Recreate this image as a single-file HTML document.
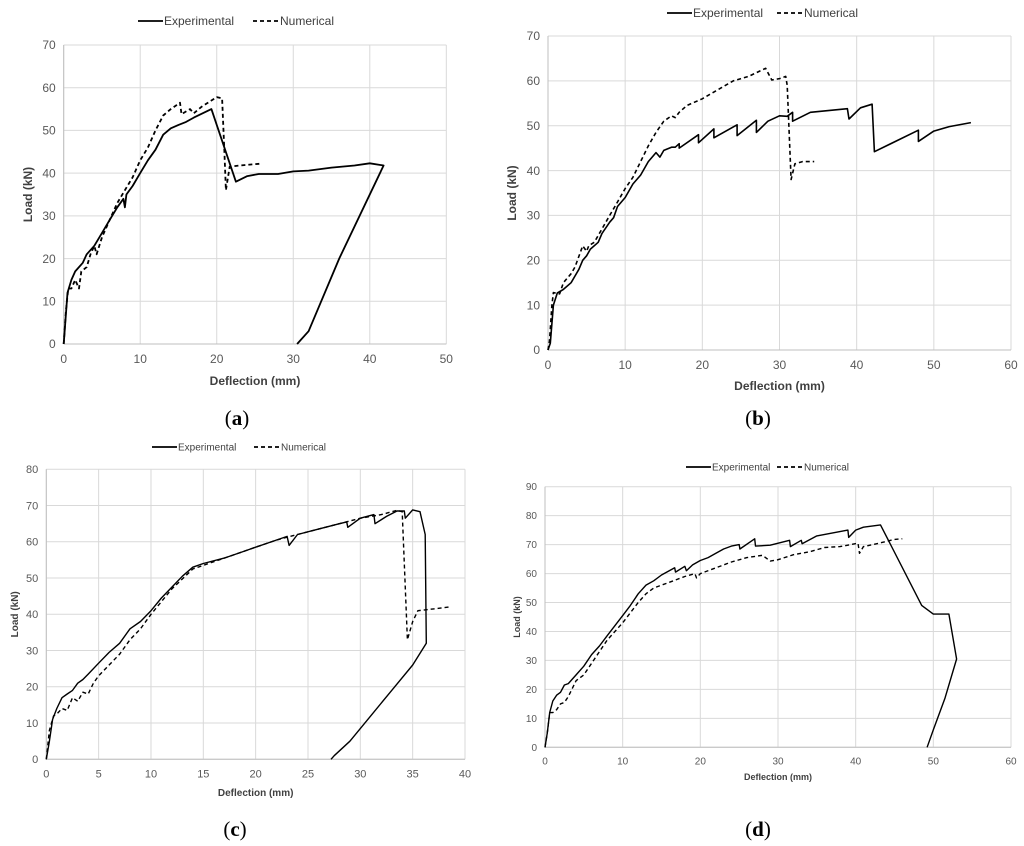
<!DOCTYPE html>
<html><head><meta charset="utf-8"><style>
body{margin:0;background:#fff;}
svg{display:block;font-family:"Liberation Sans",sans-serif;}
</style></head><body>
<svg id="fig" width="1024" height="846" viewBox="0 0 1024 846"></svg>
<script>
// Panel (a)
const aXTicks=[0,10,20,30,40,50];
const aYTicks=[0,10,20,30,40,50,60,70];
const aExpX=[0,0.5,1,1.5,2.5,3,4,5,6,7,7.8,8,8.2,9,10,11,12,13,14,15,16,17,19.3,22.5,24,25.5,28,30,32,35,38,40,41.8,36,32,30.5];
const aExpY=[0,12,15,17,19,21,23,26,29,32,34,32,35,37,40,43,45.5,49,50.5,51.3,52,53,55,38,39.3,39.8,39.8,40.4,40.6,41.3,41.8,42.3,41.8,20,3,0];
const aNumX=[0,0.3,0.6,1,1.5,2,2.3,3,3.5,4,4.3,5,6,7,8,9,10,11,12,13,14,15.2,15.4,16.5,17,18,20,20.7,21,21.2,21.7,23,25.7];
const aNumY=[0,8,13,13,15,13,17,18,21,23,21,25,29,33,36,39,43,46,50,53.5,55,56.5,53.8,55,54,55.5,57.8,57.5,45,36,41.5,41.8,42.2];
// Panel (b)
const bXTicks=[0,10,20,30,40,50,60];
const bYTicks=[0,10,20,30,40,50,60,70];
const bExpX=[0,0.3,0.7,1.2,2,3,3.5,4,4.5,5,5.5,6.5,7,8,8.5,9,10,11,12,13,14,14.5,15,16,16.5,17,17,19.5,19.5,21.5,21.5,24.5,24.5,27,27,28.5,30,31,31.7,31.7,34,38.8,39,40.5,42,42.3,48,48,50,52,54.8];
const bExpY=[0,1.5,10,12.7,13.5,15,16.5,18,20,21,22.5,24,26,28.5,29.5,32,34,37,39,42,44,43,44.5,45.2,45.2,46,45,48,46.2,49.3,47.3,50.2,47.8,51.2,48.5,51,52.2,52.1,53,51,53,53.8,51.5,54,54.8,44.2,49,46.5,48.8,49.8,50.7];
const bNumX=[0,0.2,0.5,0.7,1.5,2,3,3.5,4.5,5,5.3,6,7,8,9,10,11,12,13,14,15,16,16.5,17,18,20,22,24,26,28.2,29,30,30.8,31,31.5,32,33,34.5];
const bNumY=[0,2,10,12.8,12.5,15,17,18.5,23.2,22,23.3,24,27,30,33,36,38.5,42,45.5,48.5,51,52.2,51.8,53,54.5,56,58,60,61,62.8,60.2,60.5,61,59,38,41.5,42,42];
// Panel (c)
const cXTicks=[0,5,10,15,20,25,30,35,40];
const cYTicks=[0,10,20,30,40,50,60,70,80];
const cExpX=[0,0.3,0.6,1,1.5,2,2.5,3,3.5,4,5,6,7,8,9,10,11,12,13,14,15,17,18,19,20,21,22,23,23.2,24,26,28,28.7,28.8,30,31.3,31.4,32.5,33.5,34.2,34.3,35,35.7,36.2,36.3,35,33,31,29,27.5,27.2];
const cExpY=[0,5,11,14,17,18,19,21,22,23.5,26.5,29.5,32,36,38,41,44.5,47.5,50.5,53,54,55.5,56.5,57.5,58.5,59.5,60.5,61.5,59,62,63.5,65,65.5,64,66.5,67.5,65,67,68.5,68.5,66.5,68.8,68.3,62,32,26,19,12,5,1,0];
const cNumX=[0,0.3,0.7,1,1.5,2,2.5,3,3.5,4,4.5,5,6,7,8,9,10,12,14,16,18,20,22,24,26,28,30,32,33.5,34,34.5,35,35.5,37,38.5];
const cNumY=[0,8,12,12.5,14,13.5,17,16,18.5,18,21,23,26,29,33,36,40,47,52.5,54.5,56.5,58.5,60.5,62,63.5,65,66.5,67.5,68.7,68.3,33,38,41,41.5,42];
// Panel (d)
const dXTicks=[0,10,20,30,40,50,60];
const dYTicks=[0,10,20,30,40,50,60,70,80,90];
const dExpX=[0,0.3,0.6,1,1.5,2,2.5,3,4,5,6,7,8,9,10,11,12,13,14,15,16.7,16.8,18,18.2,19,20,21,22,23,24,25,25.1,27,27.1,29,31.5,31.6,33,33.1,35,39,39.1,40,41,43.2,48.5,50,52,53,51.5,50,49.2];
const dExpY=[0,5,12,16,18,19,21.5,22,25,28,32,35,38.5,42,45.5,49,53,56,57.5,59.5,62,60.5,62.5,61,63,64.5,65.5,67,68.5,69.5,70,68.5,72,69.5,69.8,71.5,69.3,71.5,70.3,73,75,72.5,75,76,76.8,49,46,46,30.5,17,6,0];
const dNumX=[0,0.3,0.6,1,1.5,2,2.5,3,4,5,6,7,8,9,10,11,12,13,14,16,18,19.3,19.5,20,22,24,26,28,29,30,32,34,36,38,40.3,40.5,41,43,45,46];
const dNumY=[0,5,12,12,13,15,15.5,17.5,23,25,29,33,37,40,43,46.5,50,53,55,57,59,60,58.5,60,62,64,65.5,66.3,64.3,64.8,66.5,67.5,69,69.3,70.5,67,69.3,70.5,71.8,72];

const NS='http://www.w3.org/2000/svg';
const svg=document.getElementById('fig');
function mk(tag,attrs,parent){const e=document.createElementNS(NS,tag);for(const k in attrs)e.setAttribute(k,attrs[k]);(parent||svg).appendChild(e);return e;}

function panel(id,box,xT,yT,exp,num,opt){
  const g=mk('g',{});
  
  
  const xMax=xT[xT.length-1],yMax=yT[yT.length-1];
  const sx=v=>box.x0+(box.x1-box.x0)*v/xMax;
  const sy=v=>box.y0-(box.y0-box.y1)*v/yMax;
  yT.forEach(t=>{
    const l=mk('line',{x1:box.x0,x2:box.x1,y1:sy(t),y2:sy(t),stroke:'#d9d9d9','stroke-width':1},g);
    
    
    const tx=mk('text',{x:box.x0-8,y:sy(t)+opt.fs*0.35,'text-anchor':'end','font-size':opt.fs,fill:'#595959'},g);
    tx.textContent=t;
    
    
  });
  xT.forEach(t=>{
    const l=mk('line',{x1:sx(t),x2:sx(t),y1:box.y0,y2:box.y1,stroke:'#d9d9d9','stroke-width':1},g);
    
    
    const tx=mk('text',{x:sx(t),y:box.y0+opt.fs+7,'text-anchor':'middle','font-size':opt.fs,fill:'#595959'},g);
    tx.textContent=t;
    
    
  });
  const ax=mk('line',{x1:box.x0,x2:box.x1,y1:box.y0,y2:box.y0,stroke:'#bfbfbf'},g);
  
  
  const ay=mk('line',{x1:box.x0,x2:box.x0,y1:box.y0,y2:box.y1,stroke:'#bfbfbf'},g);
  
  
  function series(xs,ys,dash,name){
    const d=xs.map((x,i)=>(i?'L':'M')+sx(x).toFixed(1)+' '+sy(ys[i]).toFixed(1)).join(' ');
    const p=mk('path',{d:d,fill:'none',stroke:'#000','stroke-width':opt.sw,'stroke-dasharray':dash,'stroke-linejoin':'round'},g);
    
    
  }
  series(num[0],num[1],'4,3','numerical-line');
  series(exp[0],exp[1],'none','experimental-line');
  const xl=mk('text',{x:(box.x0+box.x1)/2,y:opt.xly,'text-anchor':'middle','font-size':opt.lfs,'font-weight':'bold',fill:'#404040'},g);
  xl.textContent='Deflection (mm)';
  
  
  const yl=mk('text',{x:0,y:0,'text-anchor':'middle','font-size':opt.lfs,'font-weight':'bold',fill:'#404040',transform:'translate('+opt.ylx+','+(box.y0+box.y1)/2+') rotate(-90)'},g);
  yl.textContent='Load (kN)';
  
  
  // legend
  const lg=mk('g',{},g);
  
  
  const L=opt.leg;
  mk('line',{x1:L.x,x2:L.x+25,y1:L.y,y2:L.y,stroke:'#000','stroke-width':1.8},lg);
  const t1=mk('text',{x:L.x+26,y:L.y+opt.lgfs*0.35,'font-size':opt.lgfs,fill:'#404040'},lg);
  t1.textContent='Experimental';
  
  
  mk('line',{x1:L.x2,x2:L.x2+25,y1:L.y,y2:L.y,stroke:'#000','stroke-width':1.8,'stroke-dasharray':'4,3'},lg);
  const t2=mk('text',{x:L.x2+27,y:L.y+opt.lgfs*0.35,'font-size':opt.lgfs,fill:'#404040'},lg);
  t2.textContent='Numerical';
  
  
  const cap=mk('text',{x:opt.cap[0],y:opt.cap[1],'text-anchor':'middle','font-size':21,fill:'#000','font-family':'Liberation Serif, serif'},g);
  cap.innerHTML='(<tspan font-weight="bold">'+id+'</tspan>)';
  
  
}
panel('a',{x0:63.7,x1:446.3,y0:344,y1:45},aXTicks,aYTicks,[aExpX,aExpY],[aNumX,aNumY],
  {fs:12,lfs:12,sw:1.8,xly:385,ylx:32,leg:{x:138,x2:253,y:21},lgfs:12,cap:[237,425]});
panel('b',{x0:548,x1:1011,y0:350,y1:36},bXTicks,bYTicks,[bExpX,bExpY],[bNumX,bNumY],
  {fs:12,lfs:12,sw:1.6,xly:390,ylx:516,leg:{x:667,x2:777,y:13},lgfs:12,cap:[758,425]});
panel('c',{x0:46.3,x1:465,y0:759.3,y1:469.3},cXTicks,cYTicks,[cExpX,cExpY],[cNumX,cNumY],
  {fs:11,lfs:10,sw:1.4,xly:796,ylx:18,leg:{x:152,x2:254,y:447},lgfs:10,cap:[235,836]});
panel('d',{x0:545,x1:1011,y0:747.3,y1:486.7},dXTicks,dYTicks,[dExpX,dExpY],[dNumX,dNumY],
  {fs:10,lfs:9,sw:1.4,xly:780,ylx:520,leg:{x:686,x2:777,y:467},lgfs:10,cap:[758,836]});
</script>
</body></html>
